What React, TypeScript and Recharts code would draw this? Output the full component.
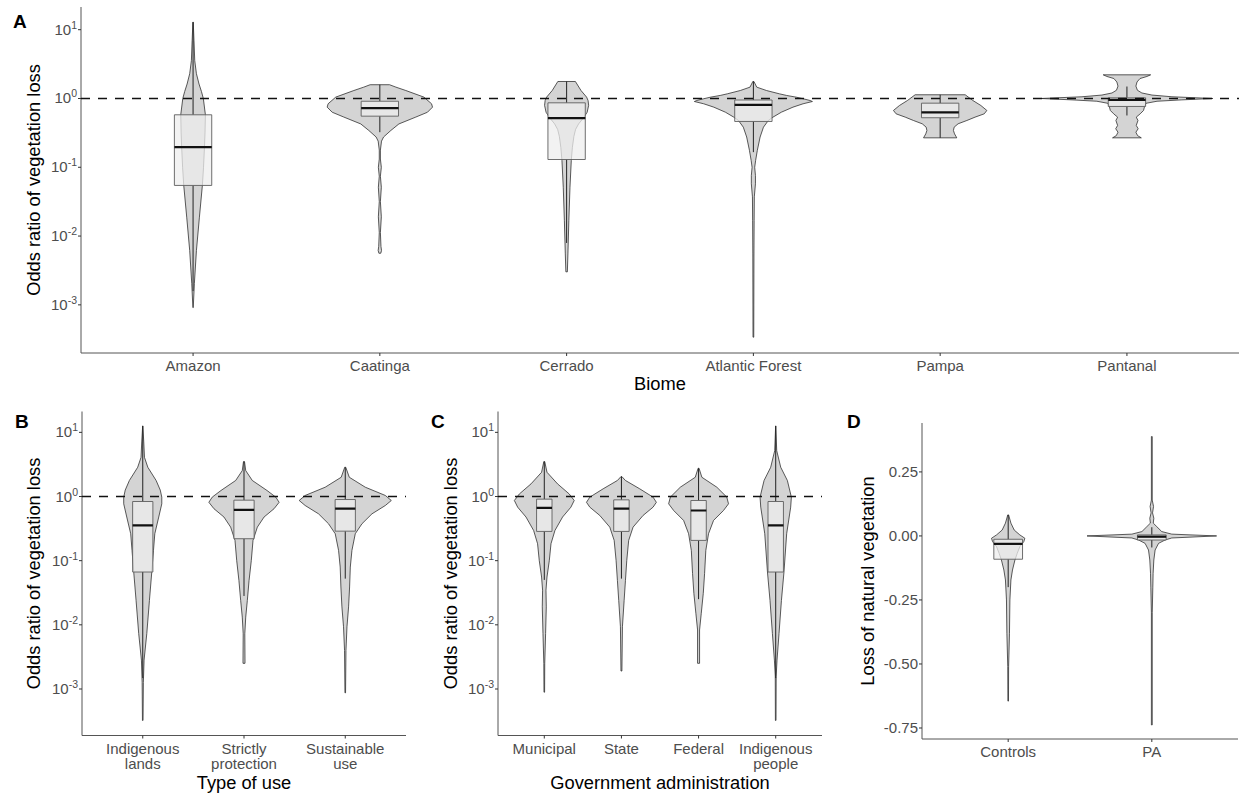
import React from 'react';
import { ComposedChart, Scatter, XAxis, YAxis } from 'recharts';

type Profile = Array<[number, number]>; // [value (log10 for odds panels), half-width in category units]
type Stats = [number, number, number, number, number]; // lo whisker, q1, median, q3, hi whisker

const FONT = "'Liberation Sans', Arial, Helvetica, sans-serif";

// ---------- Panel A : Biome (log10 odds ratio) ----------
const biomeLabels = ['Amazon', 'Caatinga', 'Cerrado', 'Atlantic Forest', 'Pampa', 'Pantanal'];
const amazonViolin: Profile = [[1.11, 0.001], [0.84, 0.005], [0.55, 0.009], [0.36, 0.018], [0.21, 0.032], [0.1, 0.045], [0, 0.055], [-0.237, 0.066], [-0.5, 0.064], [-0.71, 0.061], [-1.0, 0.056], [-1.26, 0.05], [-1.725, 0.034], [-2.21, 0.018], [-2.69, 0.007], [-3.04, 0.001]];
const caatingaViolin: Profile = [[0.2, 0.052], [0.165, 0.086], [0.116, 0.139], [0.02, 0.236], [-0.077, 0.277], [-0.126, 0.282], [-0.2, 0.255], [-0.27, 0.193], [-0.37, 0.102], [-0.465, 0.059], [-0.56, 0.02], [-0.62, 0.009], [-0.75, 0.003], [-0.88, 0.003], [-1.0, 0.008], [-1.13, 0.003], [-1.29, 0.008], [-1.5, 0.003], [-1.72, 0.008], [-1.95, 0.003], [-2.15, 0.006], [-2.21, 0.009], [-2.25, 0.005]];
const cerradoViolin: Profile = [[0.247, 0.047], [0.116, 0.077], [0.02, 0.107], [-0.03, 0.115], [-0.1, 0.118], [-0.2, 0.11], [-0.28, 0.091], [-0.37, 0.064], [-0.45, 0.048], [-0.55, 0.039], [-0.71, 0.031], [-0.9, 0.025], [-1.29, 0.018], [-1.77, 0.012], [-2.26, 0.007], [-2.52, 0.004]];
const atlanticViolin: Profile = [[0.247, 0.003], [0.165, 0.018], [0.116, 0.07], [0.068, 0.139], [0.044, 0.178], [0.019, 0.23], [-0.005, 0.268], [-0.029, 0.303], [-0.044, 0.316], [-0.077, 0.266], [-0.126, 0.212], [-0.199, 0.15], [-0.271, 0.105], [-0.32, 0.08], [-0.417, 0.054], [-0.56, 0.036], [-0.756, 0.021], [-0.9, 0.012], [-1.0, 0.007], [-1.12, 0.011], [-1.24, 0.011], [-1.43, 0.005], [-1.77, 0.004], [-2.26, 0.003], [-3.47, 0.002]];
const pampaViolin: Profile = [[0.054, 0.134], [-0.029, 0.175], [-0.102, 0.218], [-0.174, 0.25], [-0.223, 0.236], [-0.271, 0.187], [-0.32, 0.143], [-0.368, 0.096], [-0.417, 0.075], [-0.465, 0.071], [-0.514, 0.077], [-0.572, 0.089]];
const pantanalViolin: Profile = [[0.344, 0.127], [0.32, 0.107], [0.29, 0.07], [0.24, 0.054], [0.18, 0.048], [0.12, 0.056], [0.08, 0.08], [0.05, 0.134], [0.025, 0.241], [0.0, 0.46], [-0.02, 0.294], [-0.04, 0.161], [-0.07, 0.102], [-0.12, 0.094], [-0.174, 0.089], [-0.223, 0.071], [-0.271, 0.05], [-0.32, 0.059], [-0.392, 0.05], [-0.44, 0.06], [-0.49, 0.048], [-0.54, 0.057], [-0.572, 0.077]];
const biomeViolins = [amazonViolin, caatingaViolin, cerradoViolin, atlanticViolin, pampaViolin, pantanalViolin];
const biomeBoxes: Stats[] = [
  [-2.8, -1.264, -0.708, -0.237, 1.11],
  [-0.49, -0.257, -0.14, -0.04, 0.2],
  [-2.1, -0.887, -0.286, -0.063, 0.247],
  [-0.78, -0.334, -0.092, -0.022, 0.247],
  [-0.572, -0.28, -0.203, -0.068, 0.054],
  [-0.247, -0.116, -0.02, 0.01, 0.174],
];

// ---------- Panel B : Type of use ----------
const typeLabels = ['Indigenous\nlands', 'Strictly\nprotection', 'Sustainable\nuse'];
const indigenousLandsViolin: Profile = [[1.1, 0.001], [0.85, 0.01], [0.61, 0.017], [0.456, 0.05], [0.25, 0.132], [0.1, 0.173], [-0.01, 0.188], [-0.114, 0.188], [-0.32, 0.158], [-0.58, 0.119], [-0.84, 0.106], [-1.18, 0.089], [-1.62, 0.066], [-2.135, 0.04], [-2.55, 0.013], [-2.9, 0.006], [-3.49, 0.003]];
const strictlyViolin: Profile = [[0.544, 0.005], [0.404, 0.017], [0.25, 0.082], [0.093, 0.228], [-0.01, 0.314], [-0.09, 0.347], [-0.19, 0.297], [-0.32, 0.198], [-0.477, 0.132], [-0.684, 0.089], [-1.0, 0.072], [-1.31, 0.05], [-1.62, 0.033], [-1.88, 0.017], [-2.14, 0.008], [-2.6, 0.01]];
const sustainableViolin: Profile = [[0.456, 0.005], [0.3, 0.04], [0.145, 0.198], [0.016, 0.396], [-0.062, 0.455], [-0.14, 0.396], [-0.27, 0.264], [-0.425, 0.165], [-0.58, 0.099], [-0.84, 0.066], [-1.1, 0.05], [-1.41, 0.043], [-1.72, 0.033], [-2.03, 0.017], [-2.4, 0.007], [-3.06, 0.003]];
const typeViolins = [indigenousLandsViolin, strictlyViolin, sustainableViolin];
const typeBoxes: Stats[] = [
  [-2.83, -1.177, -0.451, -0.078, 1.1],
  [-1.55, -0.658, -0.207, -0.057, 0.544],
  [-1.28, -0.54, -0.19, -0.047, 0.456],
];

// ---------- Panel C : Government administration ----------
const adminLabels = ['Municipal', 'State', 'Federal', 'Indigenous\npeople'];
const municipalViolin: Profile = [[0.544, 0.006], [0.378, 0.035], [0.197, 0.172], [0.04, 0.323], [-0.062, 0.388], [-0.166, 0.345], [-0.32, 0.237], [-0.53, 0.138], [-0.736, 0.087], [-1.0, 0.065], [-1.255, 0.035], [-1.46, 0.022], [-1.72, 0.026], [-2.135, 0.017], [-2.6, 0.006], [-3.05, 0.004]];
const stateViolin: Profile = [[0.31, 0.006], [0.25, 0.052], [0.12, 0.237], [-0.01, 0.41], [-0.09, 0.453], [-0.166, 0.41], [-0.295, 0.281], [-0.477, 0.151], [-0.684, 0.094], [-1.0, 0.069], [-1.31, 0.052], [-1.62, 0.035], [-2.03, 0.013], [-2.72, 0.006]];
const federalViolin: Profile = [[0.44, 0.006], [0.3, 0.043], [0.145, 0.237], [-0.01, 0.366], [-0.114, 0.388], [-0.218, 0.323], [-0.373, 0.194], [-0.58, 0.129], [-0.84, 0.094], [-1.2, 0.078], [-1.51, 0.061], [-1.82, 0.035], [-2.08, 0.013], [-2.6, 0.013]];
const indigenousPeopleViolin: Profile = [[1.1, 0.001], [0.715, 0.013], [0.456, 0.065], [0.25, 0.151], [-0.01, 0.203], [-0.166, 0.194], [-0.58, 0.142], [-1.177, 0.107], [-1.62, 0.074], [-2.135, 0.043], [-2.55, 0.017], [-2.8, 0.006], [-3.49, 0.004]];
const adminViolins = [municipalViolin, stateViolin, federalViolin, indigenousPeopleViolin];
const adminBoxes: Stats[] = [
  [-1.3, -0.544, -0.176, -0.041, 0.544],
  [-1.28, -0.544, -0.19, -0.052, 0.31],
  [-1.6, -0.684, -0.218, -0.062, 0.44],
  [-2.83, -1.177, -0.451, -0.078, 1.1],
];

// ---------- Panel D : Loss of natural vegetation (linear) ----------
const paLabels = ['Controls', 'PA'];
const controlsViolin: Profile = [[0.082, 0.003], [0.05, 0.019], [0.023, 0.042], [0.004, 0.081], [-0.009, 0.116], [-0.022, 0.109], [-0.042, 0.081], [-0.068, 0.063], [-0.094, 0.047], [-0.133, 0.03], [-0.172, 0.019], [-0.25, 0.012], [-0.38, 0.009], [-0.51, 0.003], [-0.645, 0.002]];
const paViolin: Profile = [[0.388, 0.003], [0.14, 0.003], [0.115, 0.012], [0.09, 0.005], [0.069, 0.014], [0.05, 0.01], [0.036, 0.035], [0.017, 0.069], [0.007, 0.139], [0, 0.451], [-0.008, 0.139], [-0.016, 0.092], [-0.029, 0.047], [-0.055, 0.023], [-0.094, 0.014], [-0.146, 0.009], [-0.2, 0.007], [-0.3, 0.003], [-0.738, 0.003]];
const paViolins = [controlsViolin, paViolin];
const paBoxes: Stats[] = [
  [-0.2, -0.091, -0.031, -0.013, 0.082],
  [-0.045, -0.016, -0.003, 0.004, 0.034],
];

// ---------- axis ticks / reference ----------
const logTickExponents = [-3, -2, -1, 0, 1];
const lossTicks = [-0.75, -0.5, -0.25, 0, 0.25];
const noEffectOdds = 1;

const noDot = () => <g />;

type Pt = { x: number; y: number };
type Series = { key: string; data: Pt[]; line: Record<string, unknown> };

function buildSeries(violins: Profile[], boxes: Stats[], toY: (v: number) => number): Series[] {
  const out: Series[] = [];
  violins.forEach((prof, i) => {
    const c = i + 1;
    const right = prof.map(([v, w]) => ({ x: c + w, y: toY(v) }));
    const left = [...prof].reverse().map(([v, w]) => ({ x: c - w, y: toY(v) }));
    out.push({
      key: `violin-${i}`,
      data: [...right, ...left, right[0]],
      line: { stroke: '#262626', strokeWidth: 0.75, fill: '#d4d4d4', strokeLinejoin: 'round' },
    });
  });
  const hw = 0.1;
  boxes.forEach(([lo, q1, med, q3, hi], i) => {
    const c = i + 1;
    out.push({ key: `wu-${i}`, data: [{ x: c, y: toY(q3) }, { x: c, y: toY(hi) }], line: { stroke: '#222', strokeWidth: 1 } });
    out.push({ key: `wl-${i}`, data: [{ x: c, y: toY(q1) }, { x: c, y: toY(lo) }], line: { stroke: '#222', strokeWidth: 1 } });
    out.push({
      key: `box-${i}`,
      data: [
        { x: c - hw, y: toY(q3) }, { x: c + hw, y: toY(q3) }, { x: c + hw, y: toY(q1) },
        { x: c - hw, y: toY(q1) }, { x: c - hw, y: toY(q3) },
      ],
      line: { stroke: '#5e5e5e', strokeWidth: 0.9, fill: '#eeeeee', fillOpacity: 0.75 },
    });
    out.push({ key: `med-${i}`, data: [{ x: c - hw, y: toY(med) }, { x: c + hw, y: toY(med) }], line: { stroke: '#111', strokeWidth: 2.2 } });
  });
  return out;
}

const PowTick = (props: any) => {
  const { x, y, payload } = props;
  const e = Math.round(Math.log10(payload.value));
  return (
    <text x={x} y={y + 5} textAnchor="end" fill="#4d4d4d" fontSize={15} fontFamily={FONT}>
      10<tspan dy={-6} fontSize={10.5}>{e}</tspan>
    </text>
  );
};

const LinTick = (props: any) => {
  const { x, y, payload } = props;
  return (
    <text x={x} y={y + 5} textAnchor="end" fill="#4d4d4d" fontSize={15} fontFamily={FONT}>
      {Number(payload.value).toFixed(2)}
    </text>
  );
};

const makeXTick = (labels: string[]) => (props: any) => {
  const { x, y, payload } = props;
  const lines = labels[Math.round(payload.value) - 1].split('\n');
  return (
    <text x={x} y={y} textAnchor="middle" fill="#4d4d4d" fontSize={15} fontFamily={FONT}>
      {lines.map((s, i) => (
        <tspan key={i} x={x} dy={i === 0 ? 13.3 : 15}>{s}</tspan>
      ))}
    </text>
  );
};

type PanelProps = {
  left: number; top: number; width: number; height: number;
  margin: { top: number; right: number; left: number; bottom: number };
  yAxisWidth: number; xAxisHeight: number;
  labels: string[]; violins: Profile[]; boxes: Stats[];
  log: boolean; yRange: [number, number]; refLine: boolean;
};

function Panel(p: PanelProps) {
  const toY = p.log ? (v: number) => Math.pow(10, v) : (v: number) => v;
  const n = p.labels.length;
  const xDomain: [number, number] = [0.4, n + 0.6];
  const xTicks = p.labels.map((_, i) => i + 1);
  const yDomain: [number, number] = [toY(p.yRange[0]), toY(p.yRange[1])];
  const yTicks = p.log ? logTickExponents.map((e) => Math.pow(10, e)) : lossTicks;
  const series = buildSeries(p.violins, p.boxes, toY);
  const overlayMargin = {
    top: p.margin.top,
    right: p.margin.right,
    left: p.margin.left + p.yAxisWidth,
    bottom: p.margin.bottom + p.xAxisHeight,
  };
  return (
    <div style={{ position: 'absolute', left: p.left, top: p.top, width: p.width, height: p.height }}>
      <div style={{ position: 'absolute', left: 0, top: 0 }}>
        <ComposedChart width={p.width} height={p.height} margin={p.margin}>
          <XAxis
            type="number" dataKey="x" domain={xDomain} ticks={xTicks} allowDataOverflow interval={0}
            tick={makeXTick(p.labels)} tickSize={3} tickMargin={2} height={p.xAxisHeight}
            axisLine={{ stroke: '#555', strokeWidth: 1 }} tickLine={{ stroke: '#333' }}
          />
          <YAxis
            type="number" dataKey="y" scale={p.log ? 'log' : 'linear'} domain={yDomain} ticks={yTicks}
            allowDataOverflow interval={0} tick={p.log ? PowTick : LinTick} tickSize={3} tickMargin={1}
            width={p.yAxisWidth} axisLine={{ stroke: '#555', strokeWidth: 1 }} tickLine={{ stroke: '#333' }}
          />
          {series.map((s) => (
            <Scatter key={s.key} data={s.data} line={s.line as any} shape={noDot} isAnimationActive={false} />
          ))}
        </ComposedChart>
      </div>
      {p.refLine && (
        <div style={{ position: 'absolute', left: 0, top: 0 }}>
          <ComposedChart width={p.width} height={p.height} margin={overlayMargin}>
            <XAxis type="number" dataKey="x" domain={xDomain} allowDataOverflow hide />
            <YAxis type="number" dataKey="y" scale="log" domain={yDomain} allowDataOverflow hide />
            <Scatter
              data={[{ x: xDomain[0], y: noEffectOdds }, { x: xDomain[1], y: noEffectOdds }]}
              line={{ stroke: '#111', strokeWidth: 1.6, strokeDasharray: '9 8' } as any}
              shape={noDot}
              isAnimationActive={false}
            />
          </ComposedChart>
        </div>
      )}
    </div>
  );
}

const titleStyle = { fontFamily: FONT, fill: '#000' };

export default function App() {
  return (
    <div style={{ position: 'absolute', left: 0, top: 0, width: 1246, height: 794, background: '#fff', overflow: 'hidden' }}>
      <Panel
        left={0} top={0} width={1246} height={400}
        margin={{ top: 7, right: 7, left: 0, bottom: 0 }} yAxisWidth={81} xAxisHeight={47}
        labels={biomeLabels} violins={biomeViolins} boxes={biomeBoxes}
        log yRange={[-3.7, 1.33]} refLine
      />
      <Panel
        left={0} top={400} width={420} height={394}
        margin={{ top: 11.5, right: 14, left: 0, bottom: 0 }} yAxisWidth={82} xAxisHeight={58.5}
        labels={typeLabels} violins={typeViolins} boxes={typeBoxes}
        log yRange={[-3.725, 1.325]} refLine
      />
      <Panel
        left={400} top={400} width={430} height={394}
        margin={{ top: 11.5, right: 8, left: 0, bottom: 0 }} yAxisWidth={98} xAxisHeight={58.5}
        labels={adminLabels} violins={adminViolins} boxes={adminBoxes}
        log yRange={[-3.725, 1.325]} refLine
      />
      <Panel
        left={830} top={400} width={416} height={394}
        margin={{ top: 23, right: 8, left: 0, bottom: 0 }} yAxisWidth={92} xAxisHeight={55}
        labels={paLabels} violins={paViolins} boxes={paBoxes}
        log={false} yRange={[-0.793, 0.441]} refLine={false}
      />
      <svg width={1246} height={794} style={{ position: 'absolute', left: 0, top: 0, pointerEvents: 'none' }}>
        <text x={13} y={28} fontSize={19} fontWeight="bold" {...titleStyle}>A</text>
        <text x={15} y={428} fontSize={19} fontWeight="bold" {...titleStyle}>B</text>
        <text x={431} y={428} fontSize={19} fontWeight="bold" {...titleStyle}>C</text>
        <text x={847} y={428} fontSize={19} fontWeight="bold" {...titleStyle}>D</text>
        <text x={660} y={390} fontSize={18.3} textAnchor="middle" {...titleStyle}>Biome</text>
        <text x={244} y={789} fontSize={18.3} textAnchor="middle" {...titleStyle}>Type of use</text>
        <text x={660} y={789} fontSize={18.3} textAnchor="middle" {...titleStyle}>Government administration</text>
        <text x={40} y={180} fontSize={18.3} textAnchor="middle" transform="rotate(-90 40 180)" {...titleStyle}>Odds ratio of vegetation loss</text>
        <text x={40} y={573.5} fontSize={18.3} textAnchor="middle" transform="rotate(-90 40 573.5)" {...titleStyle}>Odds ratio of vegetation loss</text>
        <text x={457} y={573.5} fontSize={18.3} textAnchor="middle" transform="rotate(-90 457 573.5)" {...titleStyle}>Odds ratio of vegetation loss</text>
        <text x={874} y={581} fontSize={18.3} textAnchor="middle" transform="rotate(-90 874 581)" {...titleStyle}>Loss of natural vegetation</text>
      </svg>
    </div>
  );
}
